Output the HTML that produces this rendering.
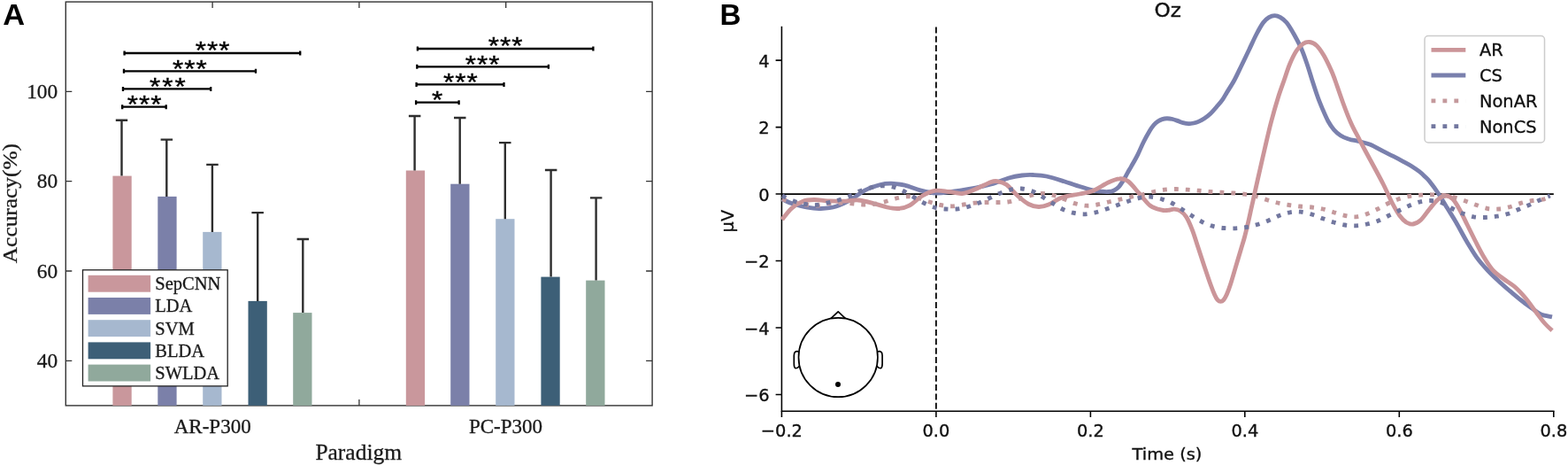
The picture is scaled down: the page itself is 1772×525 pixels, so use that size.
<!DOCTYPE html>
<html lang="en"><head><meta charset="utf-8"><title>Figure</title>
<style>
html,body{margin:0;padding:0;background:#fff;}
body{width:1772px;height:525px;overflow:hidden;}
svg{display:block;}
.serif{font-family:"Liberation Serif","Times New Roman",serif;fill:#1a1a1a;stroke:#1a1a1a;stroke-width:0.3px;}
.sans{font-family:"DejaVu Sans","Liberation Sans",sans-serif;fill:#111;stroke:#111;stroke-width:0.35px;}
.lab{font-family:"Liberation Sans",Arial,sans-serif;font-weight:bold;fill:#000;}
.star{font-family:"Liberation Sans",Arial,sans-serif;fill:#000;stroke:#000;stroke-width:0.4px;}
</style></head><body>
<svg width="1772" height="525" viewBox="0 0 1772 525">
<rect x="0" y="0" width="1772" height="525" fill="#ffffff"/>
<g id="panelA">
<text class="lab" transform="translate(3.20,28.20) scale(1.030,1)" font-size="33.40">A</text>
<rect x="74.3" y="2.1" width="662.8" height="455.8" fill="none" stroke="#333333" stroke-width="1.40"/>
<path d="M74.3,407.3h7.0M737.1,407.3h-7.0M74.3,306.0h7.0M737.1,306.0h-7.0M74.3,204.7h7.0M737.1,204.7h-7.0M74.3,103.4h7.0M737.1,103.4h-7.0M240.1,457.9v-7.0M240.1,2.1v7.0M405.9,457.9v-7.0M405.9,2.1v7.0M571.7,457.9v-7.0M571.7,2.1v7.0" stroke="#333333" stroke-width="1.30" fill="none"/>
<rect x="127.4" y="198.6" width="21.3" height="259.3" fill="#c9979c"/>
<rect x="178.3" y="221.9" width="21.3" height="236.0" fill="#7b80a9"/>
<rect x="229.2" y="261.9" width="21.3" height="196.0" fill="#a6b8cf"/>
<rect x="280.5" y="339.9" width="21.3" height="118.0" fill="#3d5f77"/>
<rect x="331.2" y="353.1" width="21.3" height="104.8" fill="#90a99c"/>
<path d="M137.5,198.6V135.8M130.8,135.8H144.2" stroke="#2e2e2e" stroke-width="2.40" fill="none"/>
<path d="M188.3,221.9V157.6M181.6,157.6H195.1" stroke="#2e2e2e" stroke-width="2.40" fill="none"/>
<path d="M239.9,261.9V185.9M233.2,185.9H246.7" stroke="#2e2e2e" stroke-width="2.40" fill="none"/>
<path d="M291.2,339.9V240.1M284.4,240.1H297.9" stroke="#2e2e2e" stroke-width="2.40" fill="none"/>
<path d="M342.3,353.1V270.0M335.6,270.0H349.1" stroke="#2e2e2e" stroke-width="2.40" fill="none"/>
<rect x="458.8" y="192.5" width="21.3" height="265.4" fill="#c9979c"/>
<rect x="509.2" y="207.7" width="21.3" height="250.2" fill="#7b80a9"/>
<rect x="560.2" y="247.2" width="21.3" height="210.7" fill="#a6b8cf"/>
<rect x="611.4" y="312.6" width="21.3" height="145.3" fill="#3d5f77"/>
<rect x="662.2" y="316.6" width="21.3" height="141.3" fill="#90a99c"/>
<path d="M468.6,192.5V131.0M461.9,131.0H475.4" stroke="#2e2e2e" stroke-width="2.40" fill="none"/>
<path d="M519.7,207.7V133.0M513.0,133.0H526.5" stroke="#2e2e2e" stroke-width="2.40" fill="none"/>
<path d="M570.8,247.2V161.1M564.0,161.1H577.5" stroke="#2e2e2e" stroke-width="2.40" fill="none"/>
<path d="M622.6,312.6V192.0M615.9,192.0H629.4" stroke="#2e2e2e" stroke-width="2.40" fill="none"/>
<path d="M673.6,316.6V223.4M666.9,223.4H680.4" stroke="#2e2e2e" stroke-width="2.40" fill="none"/>
<text class="serif" transform="translate(65.20,414.86) scale(1.040,1)" font-size="22.50" text-anchor="end">40</text>
<text class="serif" transform="translate(65.20,313.57) scale(1.040,1)" font-size="22.50" text-anchor="end">60</text>
<text class="serif" transform="translate(65.20,212.28) scale(1.040,1)" font-size="22.50" text-anchor="end">80</text>
<text class="serif" transform="translate(65.20,110.99) scale(1.040,1)" font-size="22.50" text-anchor="end">100</text>
<text class="serif" transform="translate(240.20,488.50) scale(1.010,1)" font-size="22.80" text-anchor="middle">AR-P300</text>
<text class="serif" transform="translate(571.50,488.50) scale(1.010,1)" font-size="22.80" text-anchor="middle">PC-P300</text>
<text class="serif" transform="translate(405.20,519.00) scale(1.036,1)" font-size="24.60" text-anchor="middle">Paradigm</text>
<text class="serif" transform="translate(18.70,229.60) rotate(-90) scale(1.075,1)" font-size="23.60" text-anchor="middle">Accuracy(%)</text>
<rect x="93.5" y="304.8" width="163.7" height="131.1" fill="#fff" stroke="#222" stroke-width="1.30"/>
<rect x="99.6" y="310.8" width="70.5" height="18.9" fill="#c9979c"/>
<text class="serif" transform="translate(175.30,327.20) scale(1.025,1)" font-size="20.00">SepCNN</text>
<rect x="99.6" y="336.0" width="70.5" height="18.9" fill="#7b80a9"/>
<text class="serif" transform="translate(175.30,352.40) scale(1.025,1)" font-size="20.00">LDA</text>
<rect x="99.6" y="361.2" width="70.5" height="18.9" fill="#a6b8cf"/>
<text class="serif" transform="translate(175.30,377.60) scale(1.025,1)" font-size="20.00">SVM</text>
<rect x="99.6" y="386.4" width="70.5" height="18.9" fill="#3d5f77"/>
<text class="serif" transform="translate(175.30,402.80) scale(1.025,1)" font-size="20.00">BLDA</text>
<rect x="99.6" y="411.6" width="70.5" height="18.9" fill="#90a99c"/>
<text class="serif" transform="translate(175.30,428.00) scale(1.025,1)" font-size="20.00">SWLDA</text>
<path d="M139.4,60.0H340.4M140.6,57.5v5.0M339.2,57.5v5.0" stroke="#000" stroke-width="2.30" fill="none"/>
<text class="star" transform="translate(240.5,66.3) scale(1,0.860)" font-size="31.5" text-anchor="middle" letter-spacing="1.00">***</text>
<path d="M138.8,80.3H290.1M140.0,77.8v5.0M289.0,77.8v5.0" stroke="#000" stroke-width="2.30" fill="none"/>
<text class="star" transform="translate(214.9,86.6) scale(1,0.860)" font-size="31.5" text-anchor="middle" letter-spacing="1.00">***</text>
<path d="M137.8,100.4H239.3M139.0,97.9v5.0M238.2,97.9v5.0" stroke="#000" stroke-width="2.30" fill="none"/>
<text class="star" transform="translate(190.5,106.7) scale(1,0.860)" font-size="31.5" text-anchor="middle" letter-spacing="2.00">***</text>
<path d="M137.0,120.7H188.8M138.2,118.2v5.0M187.7,118.2v5.0" stroke="#000" stroke-width="2.30" fill="none"/>
<text class="star" transform="translate(163.5,127.0) scale(1,0.860)" font-size="31.5" text-anchor="middle" letter-spacing="1.00">***</text>
<path d="M470.8,55.0H671.5M471.9,52.5v5.0M670.4,52.5v5.0" stroke="#000" stroke-width="2.30" fill="none"/>
<text class="star" transform="translate(571.5,61.3) scale(1,0.860)" font-size="31.5" text-anchor="middle" letter-spacing="1.00">***</text>
<path d="M470.2,75.3H621.0M471.3,72.8v5.0M619.9,72.8v5.0" stroke="#000" stroke-width="2.30" fill="none"/>
<text class="star" transform="translate(545.7,81.6) scale(1,0.860)" font-size="31.5" text-anchor="middle" letter-spacing="1.00">***</text>
<path d="M469.5,95.4H570.6M470.6,92.9v5.0M569.5,92.9v5.0" stroke="#000" stroke-width="2.30" fill="none"/>
<text class="star" transform="translate(520.8,101.7) scale(1,0.860)" font-size="31.5" text-anchor="middle" letter-spacing="1.00">***</text>
<path d="M469.0,115.7H519.8M470.1,113.2v5.0M518.6,113.2v5.0" stroke="#000" stroke-width="2.30" fill="none"/>
<text class="star" transform="translate(494.5,122.0) scale(1,0.860)" font-size="31.5" text-anchor="middle" letter-spacing="1.00">*</text>
</g>
<g id="panelB">
<text class="lab" transform="translate(813.50,28.30) scale(1.020,1)" font-size="32.50">B</text>
<path d="M883.4,219.20H1755.8" stroke="#000" stroke-width="1.80" fill="none"/>
<path d="M1057.9,30.4V464.2" stroke="#000" stroke-width="1.75" stroke-dasharray="7.0 3.35" fill="none"/>
<path d="M883.4,30.4V464.2H1755.8" stroke="#000" stroke-width="1.55" fill="none" stroke-linecap="square"/>
<path d="M883.4,464.2v6.8M1057.9,464.2v6.8M1232.4,464.2v6.8M1406.8,464.2v6.8M1581.3,464.2v6.8M1755.8,464.2v6.8M883.4,68.1h-6.8M883.4,143.6h-6.8M883.4,219.0h-6.8M883.4,294.5h-6.8M883.4,369.9h-6.8M883.4,445.4h-6.8" stroke="#000" stroke-width="1.55" fill="none"/>
<path d="M883.8,224.8C885.6,225.6 890.2,228.2 895.0,229.8C899.8,231.3 907.1,233.3 912.5,234.2C917.9,235.2 922.1,235.7 927.5,235.5C932.9,235.3 939.2,234.8 945.0,233.0C950.8,231.2 957.1,227.8 962.5,224.8C967.9,221.7 972.1,217.5 977.5,214.8C982.9,212.0 990.0,209.8 995.0,208.5C1000.0,207.2 1002.9,207.1 1007.5,207.2C1012.1,207.4 1017.1,208.0 1022.5,209.2C1027.9,210.5 1034.2,213.3 1040.0,214.8C1045.8,216.2 1051.7,217.7 1057.5,218.0C1063.3,218.3 1068.8,217.2 1075.0,216.5C1081.2,215.8 1087.5,214.9 1095.0,213.5C1102.5,212.1 1112.5,210.1 1120.0,208.0C1127.5,205.9 1134.2,202.7 1140.0,201.0C1145.8,199.3 1150.4,198.6 1155.0,198.0C1159.6,197.4 1162.9,197.3 1167.5,197.5C1172.1,197.7 1176.7,197.8 1182.5,199.0C1188.3,200.2 1196.2,202.8 1202.5,204.8C1208.8,206.7 1214.6,208.8 1220.0,210.5C1225.4,212.2 1230.9,213.8 1235.0,214.8C1239.1,215.7 1241.9,215.9 1244.8,216.2C1247.7,216.5 1250.1,216.7 1252.4,216.5C1254.7,216.3 1256.6,216.1 1258.5,215.2C1260.4,214.3 1262.2,213.2 1264.0,211.3C1265.8,209.4 1267.8,206.2 1269.5,203.6C1271.2,201.0 1272.5,198.3 1274.0,195.6C1275.5,192.9 1276.6,191.1 1278.6,187.6C1280.6,184.1 1283.6,178.9 1285.9,174.3C1288.2,169.7 1290.2,164.5 1292.5,160.0C1294.8,155.5 1297.5,150.7 1299.4,147.5C1301.3,144.3 1302.5,142.8 1304.0,141.0C1305.5,139.2 1307.0,138.1 1308.6,137.0C1310.2,135.9 1311.8,135.2 1313.5,134.6C1315.2,134.0 1317.0,133.7 1318.9,133.7C1320.8,133.7 1322.9,134.0 1325.0,134.5C1327.1,135.0 1329.4,135.9 1331.4,136.6C1333.4,137.3 1335.1,138.1 1337.0,138.6C1338.9,139.1 1340.9,139.6 1342.9,139.7C1344.9,139.8 1347.1,139.4 1349.0,139.0C1350.9,138.6 1352.3,138.3 1354.3,137.4C1356.3,136.5 1358.7,135.3 1361.0,133.8C1363.3,132.3 1365.7,130.5 1368.0,128.3C1370.3,126.1 1372.7,123.2 1375.0,120.5C1377.3,117.8 1379.8,115.0 1381.7,112.3C1383.6,109.6 1384.2,108.2 1386.4,104.5C1388.7,100.8 1392.4,95.2 1395.2,90.0C1398.0,84.8 1400.7,78.7 1403.5,73.0C1406.3,67.3 1409.0,61.5 1411.8,55.7C1414.5,50.0 1417.4,43.5 1420.0,38.5C1422.6,33.5 1425.3,28.6 1427.6,25.5C1429.9,22.4 1431.8,20.9 1434.0,19.6C1436.2,18.3 1438.3,17.6 1440.5,17.6C1442.7,17.6 1444.8,18.3 1447.0,19.6C1449.2,20.9 1451.4,22.3 1454.0,25.5C1456.6,28.7 1459.7,34.0 1462.5,39.0C1465.3,44.0 1468.6,50.2 1471.0,55.7C1473.4,61.2 1475.0,66.3 1477.0,72.0C1479.0,77.7 1480.7,83.8 1482.7,90.0C1484.7,96.2 1487.0,103.3 1489.0,109.0C1491.0,114.7 1493.0,119.3 1495.0,124.0C1497.0,128.7 1498.9,133.2 1501.0,137.0C1503.1,140.8 1505.2,143.8 1507.5,146.5C1509.8,149.2 1512.2,151.2 1515.0,153.0C1517.8,154.8 1520.7,155.9 1524.0,157.0C1527.3,158.1 1531.0,158.5 1535.0,159.5C1539.0,160.5 1543.3,161.1 1548.0,163.0C1552.7,164.9 1558.6,168.5 1562.9,170.7C1567.2,172.9 1570.2,174.3 1574.0,176.2C1577.8,178.1 1582.2,180.4 1585.7,182.3C1589.2,184.2 1592.0,185.6 1595.0,187.5C1598.0,189.4 1601.4,191.7 1604.0,193.7C1606.6,195.7 1608.6,197.7 1610.5,199.5C1612.4,201.3 1613.0,201.6 1615.5,204.8C1618.0,207.9 1622.2,213.5 1625.5,218.5C1628.8,223.5 1632.2,229.3 1635.5,234.8C1638.8,240.2 1641.9,244.8 1645.5,251.0C1649.1,257.2 1653.3,265.4 1657.2,272.0C1661.2,278.6 1665.0,285.2 1669.0,290.8C1673.0,296.3 1677.3,301.0 1681.5,305.5C1685.7,310.0 1689.8,313.8 1694.0,317.7C1698.2,321.6 1702.3,325.1 1706.5,328.7C1710.7,332.2 1714.8,335.7 1719.0,339.0C1723.2,342.3 1727.8,345.6 1731.5,348.3C1735.2,351.0 1737.8,353.4 1741.5,355.0C1745.2,356.6 1751.9,357.3 1754.0,357.8" stroke="#7a80ad" stroke-width="4.85" fill="none" stroke-linejoin="round"/>
<path d="M883.8,248.0C885.6,245.8 891.0,238.2 895.0,234.8C899.0,231.3 903.3,228.8 907.5,227.2C911.7,225.7 915.4,225.6 920.0,225.5C924.6,225.4 929.6,226.5 935.0,226.8C940.4,227.0 946.7,227.4 952.5,227.2C958.3,227.1 964.2,225.6 970.0,226.0C975.8,226.4 982.1,228.4 987.5,229.8C992.9,231.1 997.9,233.0 1002.5,234.0C1007.1,235.0 1010.8,235.8 1015.0,235.5C1019.2,235.2 1022.9,234.7 1027.5,232.2C1032.1,229.8 1037.5,223.8 1042.5,221.0C1047.5,218.2 1052.5,216.0 1057.5,215.2C1062.5,214.5 1067.5,216.0 1072.5,216.5C1077.5,217.0 1082.5,219.0 1087.5,218.5C1092.5,218.0 1097.1,215.7 1102.5,213.5C1107.9,211.3 1115.8,207.0 1120.0,205.5C1124.2,204.0 1124.6,204.2 1127.5,204.8C1130.4,205.2 1133.8,205.8 1137.5,208.5C1141.2,211.2 1145.8,217.3 1150.0,221.0C1154.2,224.7 1158.5,228.4 1162.5,230.5C1166.5,232.6 1170.0,233.4 1173.8,233.5C1177.5,233.6 1180.6,232.8 1185.0,231.0C1189.4,229.2 1194.2,225.0 1200.0,223.0C1205.8,221.0 1214.2,220.2 1220.0,219.0C1225.8,217.8 1229.6,217.7 1235.0,215.5C1240.4,213.3 1247.5,208.3 1252.5,206.0C1257.5,203.7 1261.2,202.0 1265.0,201.8C1268.8,201.5 1271.2,202.0 1275.0,204.8C1278.8,207.5 1283.3,213.9 1287.5,218.5C1291.7,223.1 1295.8,229.1 1300.0,232.2C1304.2,235.4 1309.7,236.4 1313.0,237.2C1316.3,238.1 1317.7,237.5 1320.0,237.3C1322.3,237.1 1324.6,236.1 1326.9,236.2C1329.2,236.3 1331.4,236.6 1333.7,238.0C1336.0,239.4 1338.3,241.3 1340.6,244.9C1342.9,248.5 1345.1,253.8 1347.4,259.7C1349.7,265.6 1352.0,273.4 1354.3,280.3C1356.6,287.2 1358.8,294.1 1361.1,300.9C1363.4,307.7 1366.1,315.7 1368.0,321.0C1369.9,326.3 1371.2,329.6 1372.5,332.5C1373.8,335.4 1374.8,337.3 1376.0,338.6C1377.2,339.9 1378.3,340.4 1379.4,340.4C1380.5,340.4 1381.7,339.9 1382.8,338.6C1383.9,337.3 1384.9,335.6 1386.3,332.5C1387.7,329.4 1389.2,325.3 1390.9,320.0C1392.6,314.7 1394.7,307.3 1396.6,300.9C1398.5,294.5 1400.8,287.0 1402.4,281.5C1404.0,276.0 1405.0,273.2 1406.4,268.0C1407.8,262.8 1409.3,256.5 1410.7,250.5C1412.1,244.5 1413.6,237.2 1414.8,232.0C1416.0,226.8 1416.2,225.8 1417.7,219.0C1419.2,212.2 1422.0,199.7 1424.0,191.0C1426.0,182.3 1427.4,176.0 1429.5,167.0C1431.6,158.0 1434.2,146.4 1436.7,137.0C1439.2,127.6 1441.9,118.2 1444.3,110.5C1446.7,102.8 1449.0,96.8 1451.2,90.5C1453.4,84.2 1455.2,78.0 1457.5,72.5C1459.8,67.0 1462.5,61.3 1465.0,57.5C1467.5,53.7 1470.0,51.2 1472.5,49.5C1475.0,47.8 1477.4,47.2 1480.0,47.5C1482.6,47.8 1485.3,49.0 1488.0,51.5C1490.7,54.0 1493.3,58.0 1496.0,62.5C1498.7,67.0 1501.9,73.9 1504.0,78.5C1506.1,83.1 1506.3,83.8 1508.6,90.0C1510.8,96.2 1514.5,107.3 1517.5,115.5C1520.5,123.7 1523.7,132.1 1526.8,139.0C1529.9,145.9 1533.3,151.8 1536.0,157.0C1538.7,162.2 1540.2,165.2 1542.8,170.0C1545.4,174.8 1548.0,179.6 1551.5,186.0C1555.0,192.4 1559.9,201.4 1563.5,208.5C1567.1,215.6 1570.0,222.7 1573.0,228.5C1576.0,234.3 1579.0,239.8 1581.8,243.5C1584.5,247.2 1586.8,249.4 1589.2,251.0C1591.8,252.6 1594.0,253.4 1596.8,253.0C1599.5,252.6 1602.4,251.3 1605.5,248.5C1608.6,245.7 1612.2,240.0 1615.5,236.0C1618.8,232.0 1622.4,227.2 1625.5,224.8C1628.6,222.2 1631.5,221.0 1634.2,221.0C1637.0,221.0 1639.2,222.2 1641.8,224.8C1644.2,227.2 1646.5,231.2 1649.2,236.0C1652.0,240.8 1655.0,247.5 1658.0,253.5C1661.0,259.5 1664.2,266.0 1667.2,272.0C1670.3,278.0 1673.3,284.1 1676.5,289.5C1679.7,294.9 1682.8,300.1 1686.5,304.3C1690.2,308.5 1694.8,311.6 1699.0,314.8C1703.2,318.0 1707.3,319.9 1711.5,323.5C1715.7,327.1 1719.8,331.5 1724.0,336.5C1728.2,341.5 1733.0,348.6 1736.5,353.2C1740.0,357.9 1742.3,361.2 1745.2,364.5C1748.2,367.8 1752.5,371.8 1754.0,373.2" stroke="#cb9599" stroke-width="4.85" fill="none" stroke-linejoin="round"/>
<path d="M884.0,224.8C886.2,225.4 893.2,227.5 897.5,228.5C901.8,229.5 905.8,230.4 910.0,231.0C914.2,231.6 918.3,232.5 922.5,232.2C926.7,232.0 930.6,230.3 935.0,229.8C939.4,229.2 944.2,229.0 948.8,229.0C953.3,229.0 958.1,229.4 962.5,229.8C966.9,230.1 970.8,230.9 975.0,231.0C979.2,231.1 983.3,231.0 987.5,230.5C991.7,230.0 995.8,228.8 1000.0,227.8C1004.2,226.7 1008.3,225.0 1012.5,224.0C1016.7,223.0 1020.8,221.8 1025.0,221.8C1029.2,221.7 1033.2,222.5 1037.5,223.5C1041.8,224.5 1046.2,226.7 1050.5,228.0C1054.8,229.3 1058.8,230.7 1063.0,231.5C1067.2,232.3 1071.2,232.8 1075.5,232.8C1079.8,232.7 1084.5,231.6 1088.8,231.0C1093.0,230.4 1096.7,229.7 1101.0,229.2C1105.3,228.8 1110.1,228.6 1114.5,228.5C1118.9,228.4 1123.2,228.6 1127.5,228.5C1131.8,228.4 1135.8,228.5 1140.0,227.8C1144.2,227.0 1148.2,225.5 1152.5,224.2C1156.8,223.0 1161.2,221.5 1165.5,220.5C1169.8,219.5 1173.8,218.5 1178.0,218.5C1182.2,218.5 1186.4,219.5 1190.5,220.5C1194.6,221.5 1198.4,223.2 1202.5,224.8C1206.6,226.3 1210.8,228.5 1215.0,229.8C1219.2,231.0 1223.3,232.0 1227.5,232.2C1231.7,232.5 1235.8,231.7 1240.0,231.0C1244.2,230.3 1248.8,229.0 1253.0,228.0C1257.2,227.0 1261.2,226.2 1265.5,225.2C1269.8,224.3 1274.5,223.2 1278.8,222.2C1283.0,221.3 1286.8,220.7 1291.0,219.8C1295.2,218.8 1299.6,217.4 1303.8,216.5C1307.9,215.6 1311.8,214.8 1316.0,214.2C1320.2,213.8 1325.0,213.5 1329.2,213.5C1333.5,213.5 1337.5,214.0 1341.8,214.2C1346.0,214.5 1350.5,214.9 1354.8,215.2C1359.0,215.6 1363.2,216.2 1367.5,216.5C1371.8,216.8 1376.2,217.0 1380.5,217.2C1384.8,217.5 1389.2,217.7 1393.5,218.0C1397.8,218.3 1402.1,218.7 1406.2,219.2C1410.4,219.8 1414.3,220.5 1418.5,221.5C1422.7,222.5 1427.0,224.2 1431.2,225.5C1435.5,226.8 1439.5,228.0 1443.8,229.0C1448.0,230.0 1452.5,230.8 1456.8,231.5C1461.0,232.2 1465.0,232.6 1469.2,233.0C1473.5,233.4 1478.2,233.5 1482.5,234.0C1486.8,234.5 1490.8,235.0 1495.0,236.0C1499.2,237.0 1503.3,238.5 1507.5,239.8C1511.7,241.0 1515.8,242.7 1520.0,243.5C1524.2,244.3 1528.3,245.1 1532.5,244.8C1536.7,244.4 1541.0,243.0 1545.0,241.5C1549.0,240.0 1552.8,238.0 1556.8,236.0C1560.7,234.0 1564.5,231.6 1568.5,229.8C1572.5,227.9 1576.4,226.1 1580.5,224.8C1584.6,223.4 1588.8,222.2 1593.0,221.5C1597.2,220.8 1601.2,220.5 1605.5,220.2C1609.8,220.0 1614.1,219.7 1618.5,219.8C1622.9,219.8 1627.5,220.0 1631.8,220.5C1636.0,221.0 1640.1,221.9 1644.2,223.0C1648.4,224.1 1652.7,225.8 1656.8,227.2C1660.8,228.7 1664.5,230.1 1668.5,231.5C1672.5,232.9 1676.8,234.8 1681.0,235.5C1685.2,236.2 1689.5,236.3 1693.8,236.0C1698.0,235.7 1702.5,234.6 1706.8,233.5C1711.0,232.4 1715.1,230.4 1719.2,229.2C1723.4,228.1 1727.5,227.2 1731.8,226.5C1736.0,225.8 1741.5,225.7 1745.0,224.8C1748.5,223.8 1751.7,221.6 1753.0,221.0" stroke="#c4999c" stroke-width="4.85" fill="none" stroke-dasharray="4.85 8.07" stroke-dashoffset="0.0"/>
<path d="M884.0,221.0C886.2,222.0 893.2,225.7 897.5,227.2C901.8,228.8 905.8,229.8 910.0,230.5C914.2,231.2 918.3,231.8 922.5,231.5C926.7,231.2 930.8,229.9 935.0,229.0C939.2,228.1 943.3,227.2 947.5,226.0C951.7,224.8 956.1,223.2 960.0,221.5C963.9,219.8 967.0,217.6 971.0,216.0C975.0,214.4 979.6,212.8 983.8,211.8C987.9,210.7 991.8,209.9 996.0,209.8C1000.2,209.6 1004.6,210.0 1008.8,211.0C1012.9,212.0 1016.9,213.6 1020.8,215.5C1024.6,217.4 1028.2,220.0 1032.0,222.2C1035.8,224.5 1039.8,227.0 1043.8,229.0C1047.7,231.0 1051.5,232.8 1055.5,234.0C1059.5,235.2 1063.8,235.7 1068.0,236.0C1072.2,236.3 1076.7,236.4 1081.0,236.0C1085.3,235.6 1089.6,234.6 1093.8,233.5C1097.9,232.4 1101.8,230.8 1105.8,229.2C1109.7,227.7 1113.5,225.8 1117.5,224.0C1121.5,222.2 1125.4,220.1 1129.5,218.5C1133.6,216.9 1137.8,215.2 1142.0,214.2C1146.2,213.3 1150.3,212.7 1154.5,213.0C1158.7,213.3 1163.1,214.5 1167.0,216.0C1170.9,217.5 1174.3,220.0 1178.0,222.2C1181.7,224.5 1185.2,227.0 1189.0,229.2C1192.8,231.5 1196.6,234.2 1200.5,236.0C1204.4,237.8 1208.4,239.3 1212.5,240.2C1216.6,241.2 1220.8,241.8 1225.0,241.8C1229.2,241.7 1233.8,240.7 1238.0,239.8C1242.2,238.8 1246.3,237.4 1250.5,236.0C1254.7,234.6 1258.9,233.0 1263.0,231.5C1267.1,230.0 1270.9,228.6 1275.0,227.2C1279.1,225.9 1283.3,224.3 1287.5,223.5C1291.7,222.7 1295.8,222.0 1300.0,222.2C1304.2,222.5 1309.0,223.6 1313.0,224.8C1317.0,225.9 1320.4,227.3 1324.2,229.2C1328.1,231.2 1332.2,234.1 1336.0,236.5C1339.8,238.9 1343.1,241.2 1346.8,243.5C1350.4,245.8 1354.1,248.3 1358.0,250.2C1361.9,252.2 1365.8,254.0 1370.0,255.2C1374.2,256.5 1378.7,257.1 1383.0,257.5C1387.3,257.9 1391.8,257.9 1396.0,257.8C1400.2,257.6 1404.3,257.2 1408.5,256.5C1412.7,255.8 1416.8,254.8 1421.0,253.5C1425.2,252.2 1429.4,250.7 1433.5,249.0C1437.6,247.3 1441.5,245.0 1445.5,243.5C1449.5,242.0 1453.4,240.5 1457.5,239.8C1461.6,239.0 1465.8,238.8 1470.0,239.2C1474.2,239.7 1478.8,241.0 1483.0,242.2C1487.2,243.5 1491.0,245.3 1495.0,246.8C1499.0,248.2 1503.1,249.8 1507.2,251.0C1511.4,252.2 1515.5,253.4 1519.8,254.0C1524.0,254.6 1528.3,254.9 1532.5,254.8C1536.7,254.6 1540.8,253.9 1545.0,253.0C1549.2,252.1 1553.5,250.8 1557.5,249.2C1561.5,247.7 1565.3,245.4 1569.2,243.5C1573.2,241.6 1577.1,239.6 1581.0,237.8C1584.9,235.9 1588.5,233.9 1592.5,232.2C1596.5,230.6 1600.6,228.7 1604.8,227.8C1608.9,226.8 1613.3,226.2 1617.5,226.5C1621.7,226.8 1626.0,227.8 1630.0,229.2C1634.0,230.8 1637.4,233.5 1641.2,235.5C1645.1,237.5 1649.0,239.5 1653.0,241.0C1657.0,242.5 1661.2,244.0 1665.5,244.8C1669.8,245.5 1674.2,245.6 1678.5,245.5C1682.8,245.4 1687.0,244.9 1691.2,244.2C1695.5,243.6 1699.6,242.8 1703.8,241.5C1707.9,240.2 1712.0,238.2 1716.0,236.5C1720.0,234.8 1724.0,233.2 1728.0,231.5C1732.0,229.8 1735.8,227.8 1739.8,226.0C1743.7,224.2 1749.8,221.8 1751.8,221.0" stroke="#72779f" stroke-width="4.85" fill="none" stroke-dasharray="4.85 8.07" stroke-dashoffset="0.0"/>
<text class="sans" transform="translate(883.40,493.10)" font-size="19.40" text-anchor="middle">−0.2</text>
<text class="sans" transform="translate(1057.88,493.10)" font-size="19.40" text-anchor="middle">0.0</text>
<text class="sans" transform="translate(1232.36,493.10)" font-size="19.40" text-anchor="middle">0.2</text>
<text class="sans" transform="translate(1406.84,493.10)" font-size="19.40" text-anchor="middle">0.4</text>
<text class="sans" transform="translate(1581.32,493.10)" font-size="19.40" text-anchor="middle">0.6</text>
<text class="sans" transform="translate(1755.80,493.10)" font-size="19.40" text-anchor="middle">0.8</text>
<text class="sans" transform="translate(869.60,75.73)" font-size="19.40" text-anchor="end">4</text>
<text class="sans" transform="translate(869.60,151.18)" font-size="19.40" text-anchor="end">2</text>
<text class="sans" transform="translate(869.60,226.63)" font-size="19.40" text-anchor="end">0</text>
<text class="sans" transform="translate(869.60,302.08)" font-size="19.40" text-anchor="end">−2</text>
<text class="sans" transform="translate(869.60,377.53)" font-size="19.40" text-anchor="end">−4</text>
<text class="sans" transform="translate(869.60,452.99)" font-size="19.40" text-anchor="end">−6</text>
<text class="sans" transform="translate(1319.00,519.30) scale(1.060,1)" font-size="18.30" text-anchor="middle">Time (s)</text>
<text class="sans" transform="translate(829.30,249.60) rotate(-90)" font-size="19.40" text-anchor="middle">µV</text>
<text class="sans" transform="translate(1319.70,18.70) scale(1.090,1)" font-size="21.30" text-anchor="middle">Oz</text>
<g fill="none" stroke="#000" stroke-width="1.70" stroke-linejoin="round">
<path d="M938.9,359.6L947.2,351.8L955.5,359.6"/>
<path d="M903.5,397.2C900.0,395.7 897.3,396.7 897.3,401.2L897.3,410.8C897.3,416.3 899.5,417.3 903.5,413.3" fill="#fff"/>
<path d="M990.9,397.2C994.4,395.7 997.1,396.7 997.1,401.2L997.1,410.8C997.1,416.3 994.9,417.3 990.9,413.3" fill="#fff"/>
<circle cx="947.2" cy="403.5" r="44.7" fill="#fff"/>
</g>
<circle cx="947.0" cy="433.9" r="3.0" fill="#000"/>
<rect x="1610.0" y="40.5" width="135.5" height="120.5" rx="4.0" ry="4.0" fill="#fff" fill-opacity="0.8" stroke="#cccccc" stroke-width="1.50"/>
<path d="M1617.5,56.3H1656.3" stroke="#cb9599" stroke-width="4.85" fill="none"/>
<text class="sans" transform="translate(1672.00,63.30)" font-size="19.40">AR</text>
<path d="M1617.5,85.0H1656.3" stroke="#7a80ad" stroke-width="4.85" fill="none"/>
<text class="sans" transform="translate(1672.00,92.05)" font-size="19.40">CS</text>
<path d="M1617.5,113.8H1656.3" stroke="#c4999c" stroke-width="4.85" fill="none" stroke-dasharray="4.85 8.07"/>
<text class="sans" transform="translate(1672.00,120.80)" font-size="19.40">NonAR</text>
<path d="M1617.5,142.6H1656.3" stroke="#72779f" stroke-width="4.85" fill="none" stroke-dasharray="4.85 8.07"/>
<text class="sans" transform="translate(1672.00,149.55)" font-size="19.40">NonCS</text>
</g>
</svg>
</body></html>
